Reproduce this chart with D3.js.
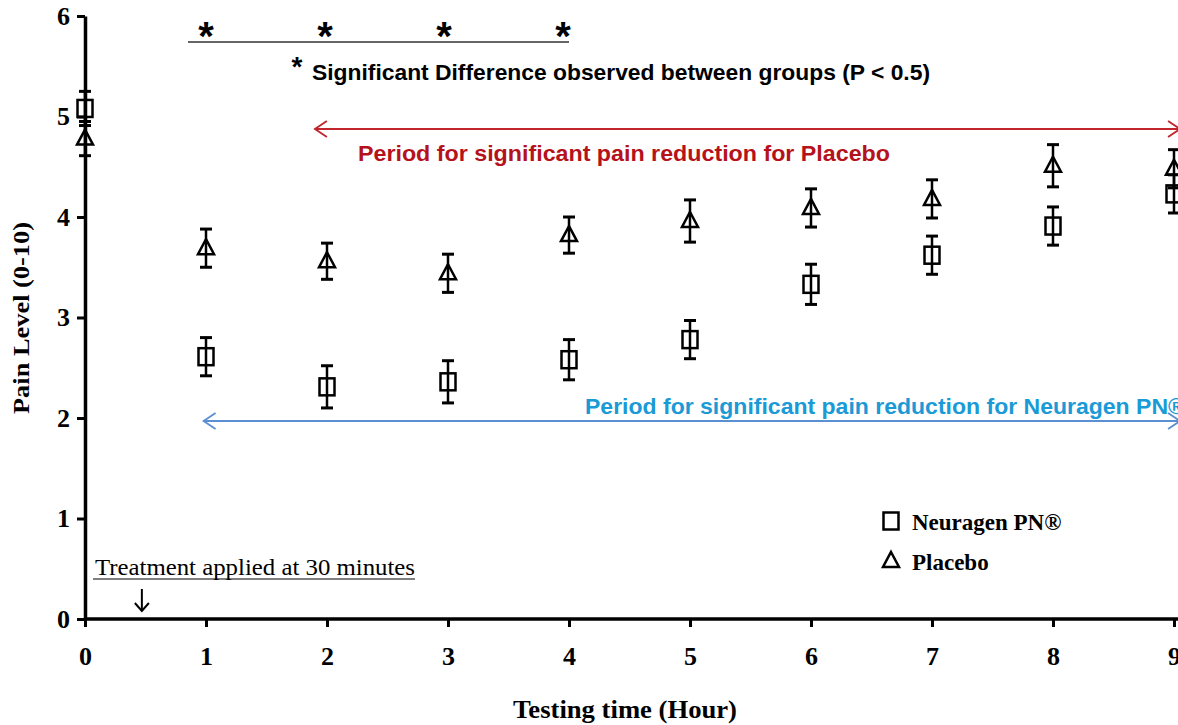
<!DOCTYPE html>
<html>
<head>
<meta charset="utf-8">
<script src="https://cdn.jsdelivr.net/npm/d3@7"></script>
<style>
  body { margin: 0; background: #fff; }
  svg { display: block; }
</style>
</head>
<body>
<svg></svg>
<script>
// testing time in hours
let hours = [0, 1, 2, 3, 4, 5, 6, 7, 8, 9]

// mean pain level and error for each group
let neuragen = [5.08, 2.61, 2.31, 2.36, 2.58, 2.78, 3.33, 3.62, 3.91, 4.23]
let neuragenErr = [0.17, 0.19, 0.21, 0.21, 0.2, 0.19, 0.2, 0.19, 0.19, 0.19]
let placebo = [4.78, 3.69, 3.56, 3.44, 3.82, 3.96, 4.09, 4.18, 4.51, 4.48]
let placeboErr = [0.17, 0.19, 0.18, 0.19, 0.18, 0.21, 0.19, 0.19, 0.21, 0.19]

let yTicks = [0, 1, 2, 3, 4, 5, 6]
let xTicks = [0, 1, 2, 3, 4, 5, 6, 7, 8, 9]

// hours where the groups differ
let starHours = [1, 2, 3, 4]
// periods of significant reduction (start, end in hours)
let placeboPeriod = [1.9, 9.05]
let neuragenPeriod = [0.98, 9.05]

var svg = d3.select("svg")
    .attr("width", 1178)
    .attr("height", 725)

let scX = d3.scaleLinear().domain([0, 9]).range([85, 1174])
let scY = d3.scaleLinear().domain([0, 6]).range([619, 16])

let serif = "'Liberation Serif', 'Times New Roman', serif"
let sans = "'Liberation Sans', Arial, sans-serif"

// axes
let xAxis = d3.axisBottom(scX).tickValues(xTicks).tickFormat(d3.format("d"))
    .tickSize(8).tickSizeOuter(0).tickPadding(20)
let yAxis = d3.axisLeft(scY).tickValues(yTicks).tickFormat(d3.format("d"))
    .tickSize(8).tickSizeOuter(0).tickPadding(7)

let gx = svg.append("g")
    .attr("transform", `translate(0, ${scY(0)})`)
    .call(xAxis)
gx.select(".domain").attr("d", `M${scX(0)},0H1178`)

let gy = svg.append("g")
    .attr("transform", `translate(${scX(0)}, 0)`)
    .call(yAxis)

svg.selectAll(".domain").attr("stroke", "#000").attr("stroke-width", 3.5)
svg.selectAll(".tick line").attr("stroke", "#000").attr("stroke-width", 3)
svg.selectAll(".tick text")
    .attr("fill", "#000")
    .style("font-family", serif)
    .style("font-weight", "bold")
    .style("font-size", "26px")

// axis titles
svg.append("text")
    .attr("x", 625).attr("y", 718)
    .attr("text-anchor", "middle")
    .attr("textLength", 224).attr("lengthAdjust", "spacingAndGlyphs")
    .style("font-family", serif).style("font-weight", "bold").style("font-size", "25px")
    .text("Testing time (Hour)")

svg.append("text")
    .attr("transform", "translate(29, 318) rotate(-90)")
    .attr("text-anchor", "middle")
    .attr("textLength", 192).attr("lengthAdjust", "spacingAndGlyphs")
    .style("font-family", serif).style("font-weight", "bold").style("font-size", "23px")
    .text("Pain Level (0-10)")

// error bars + markers
let series = [
    {name: "Neuragen PN®", vals: neuragen, err: neuragenErr, shape: "square"},
    {name: "Placebo", vals: placebo, err: placeboErr, shape: "triangle"}
]

let cap = 6
function marker(g, shape, cx, cy) {
    if (shape == "square") {
        g.append("rect")
            .attr("x", cx - 7.5).attr("y", cy - 8.5)
            .attr("width", 15).attr("height", 17)
            .attr("fill", "none").attr("stroke", "#000").attr("stroke-width", 2.5)
    } else {
        g.append("path")
            .attr("d", `M${cx},${cy - 9}L${cx + 8},${cy + 6}L${cx - 8},${cy + 6}Z`)
            .attr("fill", "none").attr("stroke", "#000").attr("stroke-width", 2.5)
            .attr("stroke-linejoin", "miter")
    }
}

series.forEach(s => {
    let g = svg.append("g")
    hours.forEach((h, i) => {
        let cx = scX(h)
        let top = scY(s.vals[i] + s.err[i])
        let bot = scY(s.vals[i] - s.err[i])
        g.append("line").attr("x1", cx).attr("x2", cx).attr("y1", top).attr("y2", bot)
            .attr("stroke", "#000").attr("stroke-width", 2.5)
        g.append("line").attr("x1", cx - cap).attr("x2", cx + cap).attr("y1", top).attr("y2", top)
            .attr("stroke", "#000").attr("stroke-width", 3)
        g.append("line").attr("x1", cx - cap).attr("x2", cx + cap).attr("y1", bot).attr("y2", bot)
            .attr("stroke", "#000").attr("stroke-width", 3)
        marker(g, s.shape, cx, scY(s.vals[i]))
    })
})

// significance stars
svg.append("line")
    .attr("x1", scX(starHours[0]) - 18).attr("x2", scX(starHours[starHours.length - 1]))
    .attr("y1", 42).attr("y2", 42)
    .attr("stroke", "#333").attr("stroke-width", 1.6)

svg.selectAll(".star")
    .data(starHours).enter().append("text")
    .attr("class", "star")
    .attr("x", d => scX(d) - (d - 1) * 2)
    .attr("y", 50)
    .attr("text-anchor", "middle")
    .style("font-family", sans).style("font-weight", "bold").style("font-size", "40px")
    .text("*")

svg.append("text")
    .attr("x", 297).attr("y", 76)
    .attr("text-anchor", "middle")
    .style("font-family", sans).style("font-weight", "bold").style("font-size", "28px")
    .text("*")

svg.append("text")
    .attr("x", 312).attr("y", 80)
    .attr("textLength", 618).attr("lengthAdjust", "spacingAndGlyphs")
    .style("font-family", sans).style("font-weight", "bold").style("font-size", "22px")
    .text("Significant Difference observed between groups (P < 0.5)")

// period arrows
function doubleArrow(x1, x2, yy, color) {
    let g = svg.append("g").attr("stroke", color).attr("fill", "none").attr("stroke-width", 1.8)
    g.append("line").attr("x1", x1).attr("x2", x2).attr("y1", yy).attr("y2", yy)
    g.append("path").attr("d", `M${x1 + 12},${yy - 8}L${x1},${yy}L${x1 + 12},${yy + 8}`)
    g.append("path").attr("d", `M${x2 - 12},${yy - 8}L${x2},${yy}L${x2 - 12},${yy + 8}`)
}

doubleArrow(scX(placeboPeriod[0]), scX(placeboPeriod[1]), 129, "#c0262c")
svg.append("text")
    .attr("x", 358).attr("y", 161)
    .attr("textLength", 532).attr("lengthAdjust", "spacingAndGlyphs")
    .attr("fill", "#b5121b")
    .style("font-family", sans).style("font-weight", "bold").style("font-size", "22px")
    .text("Period for significant pain reduction for Placebo")

doubleArrow(scX(neuragenPeriod[0]), scX(neuragenPeriod[1]), 421, "#5b8fd4")
svg.append("text")
    .attr("x", 585).attr("y", 414)
    .attr("textLength", 600).attr("lengthAdjust", "spacingAndGlyphs")
    .attr("fill", "#1a9ad6")
    .style("font-family", sans).style("font-weight", "bold").style("font-size", "22px")
    .text("Period for significant pain reduction for Neuragen PN®")

// treatment note
svg.append("text")
    .attr("x", 95).attr("y", 575)
    .attr("textLength", 320).attr("lengthAdjust", "spacingAndGlyphs")
    .style("font-family", serif).style("font-size", "23px")
    .text("Treatment applied at 30 minutes")
svg.append("line")
    .attr("x1", 93).attr("x2", 415).attr("y1", 579).attr("y2", 579)
    .attr("stroke", "#000").attr("stroke-width", 1.2)

let ax = scX(0.47)
svg.append("line").attr("x1", ax).attr("x2", ax).attr("y1", 589).attr("y2", 611)
    .attr("stroke", "#000").attr("stroke-width", 2)
svg.append("path").attr("d", `M${ax - 7},${603}L${ax},${611}L${ax + 7},${603}`)
    .attr("stroke", "#000").attr("stroke-width", 2).attr("fill", "none")

// legend
let legend = svg.append("g")
series.forEach((s, i) => {
    let cy = 521 + i * 40
    marker(legend, s.shape, 891, cy)
    legend.append("text")
        .attr("x", 912).attr("y", cy + 9)
        .style("font-family", serif).style("font-weight", "bold").style("font-size", "23px")
        .text(s.name)
})
</script>
</body>
</html>
